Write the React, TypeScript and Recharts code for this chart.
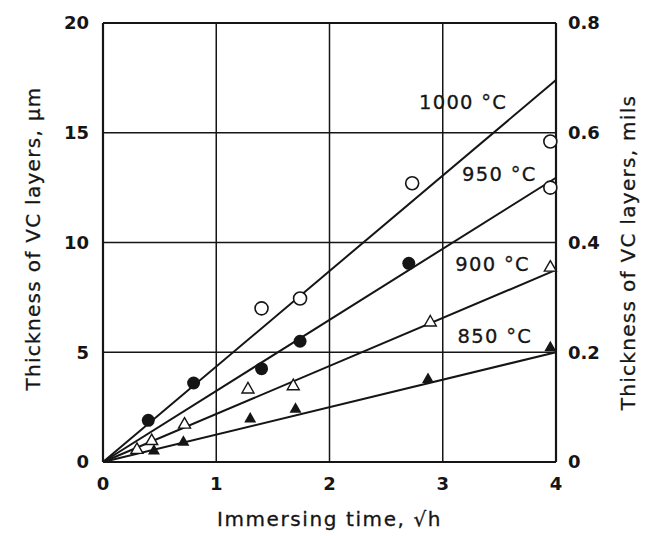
import React from 'react';
import {
  ComposedChart,
  Line,
  Scatter,
  XAxis,
  YAxis,
  CartesianGrid,
  ReferenceLine,
  Label
} from 'recharts';

// axis ticks
const xTicks = [0, 1, 2, 3, 4];
const yTicks = [0, 5, 10, 15, 20];
const milTicks = [0, 0.2, 0.4, 0.6, 0.8];

// fitted lines: thickness (µm) at √h = 4, one per temperature
const temps = ['1000 °C', '950 °C', '900 °C', '850 °C'];
const fitEnd = [17.4, 12.95, 8.75, 5.0];
// where the temperature labels sit (data units)
const labelX = [3.18, 3.5, 3.44, 3.46];
const labelY = [16.4, 13.1, 9.0, 5.7];

// measured points, by marker style
const openCircleX = [1.4, 1.74, 2.73, 3.95, 3.95];
const openCircleY = [7.0, 7.45, 12.7, 14.6, 12.5];
const filledCircleX = [0.4, 0.8, 1.4, 1.74, 2.7];
const filledCircleY = [1.9, 3.6, 4.25, 5.5, 9.05];
const openTriX = [0.3, 0.43, 0.72, 1.28, 1.68, 2.89, 3.95];
const openTriY = [0.6, 1.0, 1.75, 3.35, 3.5, 6.4, 8.9];
const filledTriX = [0.45, 0.71, 1.3, 1.7, 2.87, 3.95];
const filledTriY = [0.55, 0.95, 2.0, 2.45, 3.8, 5.25];

const INK = '#151515';
const FONT = '"DejaVu Sans", sans-serif';

const pts = (xs: number[], ys: number[]) => xs.map((x, i) => ({ x, y: ys[i] }));

const triPath = (cx: number, cy: number, s: number) =>
  `M${cx},${cy - s} L${cx + s},${cy + s * 0.75} L${cx - s},${cy + s * 0.75} Z`;

const OpenCircle = (p: any) => (
  <circle cx={p.cx} cy={p.cy} r={6.5} fill="#fff" stroke={INK} strokeWidth={1.6} />
);
const FilledCircle = (p: any) => <circle cx={p.cx} cy={p.cy} r={6.5} fill={INK} />;
const OpenTri = (p: any) => (
  <path d={triPath(p.cx, p.cy, 6)} fill="#fff" stroke={INK} strokeWidth={1.4} />
);
const FilledTri = (p: any) => <path d={triPath(p.cx, p.cy, 6)} fill={INK} />;
const NoMark = () => <g />;

const TempText = (p: any) => (
  <text
    x={p.cx}
    y={p.cy}
    textAnchor="middle"
    dominantBaseline="central"
    fontFamily={FONT}
    fontSize={19.5}
    letterSpacing={1.3}
    stroke={INK}
    strokeWidth={0.3}
    fill={INK}
  >
    {p.payload.text}
  </text>
);

const tickStyle = { fill: INK, fontSize: 18, fontWeight: 700, fontFamily: FONT };

export default function App() {
  const fitData = fitEnd.map((end) => [
    { x: 0, y: 0 },
    { x: 4, y: end }
  ]);
  const labelData = temps.map((t, i) => ({ x: labelX[i], y: labelY[i], text: t }));
  const milData = milTicks.map((m) => ({ x: 4, y: m }));

  return (
    <div style={{ position: 'absolute', left: 0, top: 0, background: '#fff' }}>
      <ComposedChart width={645} height={536} margin={{ top: 23, right: 0, bottom: 0, left: 0 }}>
        <CartesianGrid stroke={INK} strokeWidth={1.5} fill="none" />
        <XAxis
          dataKey="x"
          type="number"
          domain={[0, 4]}
          ticks={xTicks}
          height={74}
          axisLine={{ stroke: INK, strokeWidth: 2.2 }}
          tickLine={false}
          tickSize={0}
          tickMargin={15}
          tick={tickStyle}
        >
          <Label
            content={({ viewBox }: any) => (
              <text
                x={viewBox.x + viewBox.width / 2}
                y={viewBox.y + 57}
                textAnchor="middle"
                dominantBaseline="central"
                fontFamily={FONT}
                fontSize={20}
                letterSpacing={1.6}
                stroke={INK}
                strokeWidth={0.3}
                fill={INK}
              >
                Immersing time, √h
              </text>
            )}
          />
        </XAxis>
        <YAxis
          type="number"
          domain={[0, 20]}
          ticks={yTicks}
          width={103}
          axisLine={{ stroke: INK, strokeWidth: 2.2 }}
          tickLine={false}
          tickSize={0}
          tickMargin={14}
          tick={tickStyle}
        >
          <Label
            content={({ viewBox }: any) => {
              const cx = viewBox.x + 33;
              const cy = viewBox.y + viewBox.height / 2 - 4;
              return (
                <text
                  x={cx}
                  y={cy}
                  transform={`rotate(-90 ${cx} ${cy})`}
                  textAnchor="middle"
                  dominantBaseline="central"
                  fontFamily={FONT}
                  fontSize={20}
                  letterSpacing={1.3}
                  stroke={INK}
                  strokeWidth={0.3}
                  fill={INK}
                >
                  Thickness of VC layers, µm
                </text>
              );
            }}
          />
        </YAxis>
        <YAxis
          yAxisId="right"
          orientation="right"
          type="number"
          domain={[0, 0.8]}
          ticks={milTicks}
          width={89}
          axisLine={{ stroke: INK, strokeWidth: 2.2 }}
          tickLine={false}
          tickSize={0}
          tickMargin={12}
          tick={tickStyle}
          tickFormatter={(v: number) => (v === 0 ? '0' : v.toFixed(1))}
        >
          <Label
            content={({ viewBox }: any) => {
              const cx = viewBox.x + 72;
              const cy = viewBox.y + viewBox.height / 2 + 10;
              return (
                <text
                  x={cx}
                  y={cy}
                  transform={`rotate(-90 ${cx} ${cy})`}
                  textAnchor="middle"
                  dominantBaseline="central"
                  fontFamily={FONT}
                  fontSize={20}
                  letterSpacing={1.3}
                  stroke={INK}
                  strokeWidth={0.3}
                  fill={INK}
                >
                  Thickness of VC layers, mils
                </text>
              );
            }}
          />
        </YAxis>
        <ReferenceLine y={20} stroke={INK} strokeWidth={2.2} ifOverflow="visible" />

        {fitData.map((d, i) => (
          <Line
            key={temps[i]}
            data={d}
            dataKey="y"
            type="linear"
            stroke={INK}
            strokeWidth={2}
            dot={false}
            activeDot={false}
            isAnimationActive={false}
          />
        ))}

        <Scatter data={pts(openCircleX, openCircleY)} dataKey="y" shape={OpenCircle} isAnimationActive={false} />
        <Scatter data={pts(filledCircleX, filledCircleY)} dataKey="y" shape={FilledCircle} isAnimationActive={false} />
        <Scatter data={pts(openTriX, openTriY)} dataKey="y" shape={OpenTri} isAnimationActive={false} />
        <Scatter data={pts(filledTriX, filledTriY)} dataKey="y" shape={FilledTri} isAnimationActive={false} />
        <Scatter data={labelData} dataKey="y" shape={TempText} isAnimationActive={false} />
        <Scatter yAxisId="right" data={milData} dataKey="y" shape={NoMark} isAnimationActive={false} />
      </ComposedChart>
    </div>
  );
}
